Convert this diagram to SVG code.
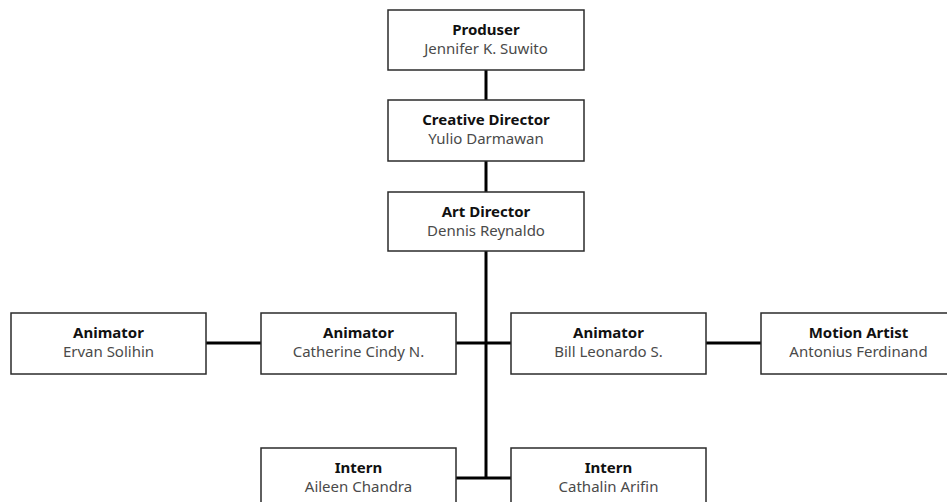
<svg xmlns="http://www.w3.org/2000/svg" width="947" height="502" viewBox="0 0 947 502">
<style>
.box{fill:#fff;stroke:#2b2b2b;stroke-width:1.5}
.t{font-family:"Noto Sans","Open Sans",sans-serif;font-size:15px;font-weight:bold;fill:#111;text-anchor:middle}
.n{font-family:"Noto Sans","Open Sans",sans-serif;font-size:15px;fill:#4a4a4a;text-anchor:middle}
.c{stroke:#000;stroke-width:3;fill:none}
</style>
<rect width="947" height="502" fill="#fff"/>
<g id="connectors">
<line class="c" x1="486" y1="70" x2="486" y2="100"/>
<line class="c" x1="486" y1="161" x2="486" y2="192"/>
<line class="c" x1="486" y1="251" x2="486" y2="478"/>
<line class="c" x1="206" y1="343" x2="261" y2="343"/>
<line class="c" x1="456" y1="343" x2="511" y2="343"/>
<line class="c" x1="706" y1="343" x2="761" y2="343"/>
<line class="c" x1="456" y1="478" x2="511" y2="478"/>
</g>
<g id="produser"><rect class="box" x="388" y="10" width="196" height="60"/><text class="t" x="486" y="35">Produser</text><text class="n" x="486" y="54">Jennifer K. Suwito</text></g>
<g id="creative"><rect class="box" x="388" y="100" width="196" height="61"/><text class="t" x="486" y="125">Creative Director</text><text class="n" x="486" y="144">Yulio Darmawan</text></g>
<g id="art"><rect class="box" x="388" y="192" width="196" height="59"/><text class="t" x="486" y="217">Art Director</text><text class="n" x="486" y="236">Dennis Reynaldo</text></g>
<g id="ervan"><rect class="box" x="11" y="313" width="195" height="61"/><text class="t" x="108.5" y="338">Animator</text><text class="n" x="108.5" y="357">Ervan Solihin</text></g>
<g id="catherine"><rect class="box" x="261" y="313" width="195" height="61"/><text class="t" x="358.5" y="338">Animator</text><text class="n" x="358.5" y="357">Catherine Cindy N.</text></g>
<g id="bill"><rect class="box" x="511" y="313" width="195" height="61"/><text class="t" x="608.5" y="338">Animator</text><text class="n" x="608.5" y="357">Bill Leonardo S.</text></g>
<g id="motion"><rect class="box" x="761" y="313" width="195" height="61"/><text class="t" x="858.5" y="338">Motion Artist</text><text class="n" x="858.5" y="357">Antonius Ferdinand</text></g>
<g id="aileen"><rect class="box" x="261" y="448" width="195" height="61"/><text class="t" x="358.5" y="473">Intern</text><text class="n" x="358.5" y="492">Aileen Chandra</text></g>
<g id="cathalin"><rect class="box" x="511" y="448" width="195" height="61"/><text class="t" x="608.5" y="473">Intern</text><text class="n" x="608.5" y="492">Cathalin Arifin</text></g>
</svg>
